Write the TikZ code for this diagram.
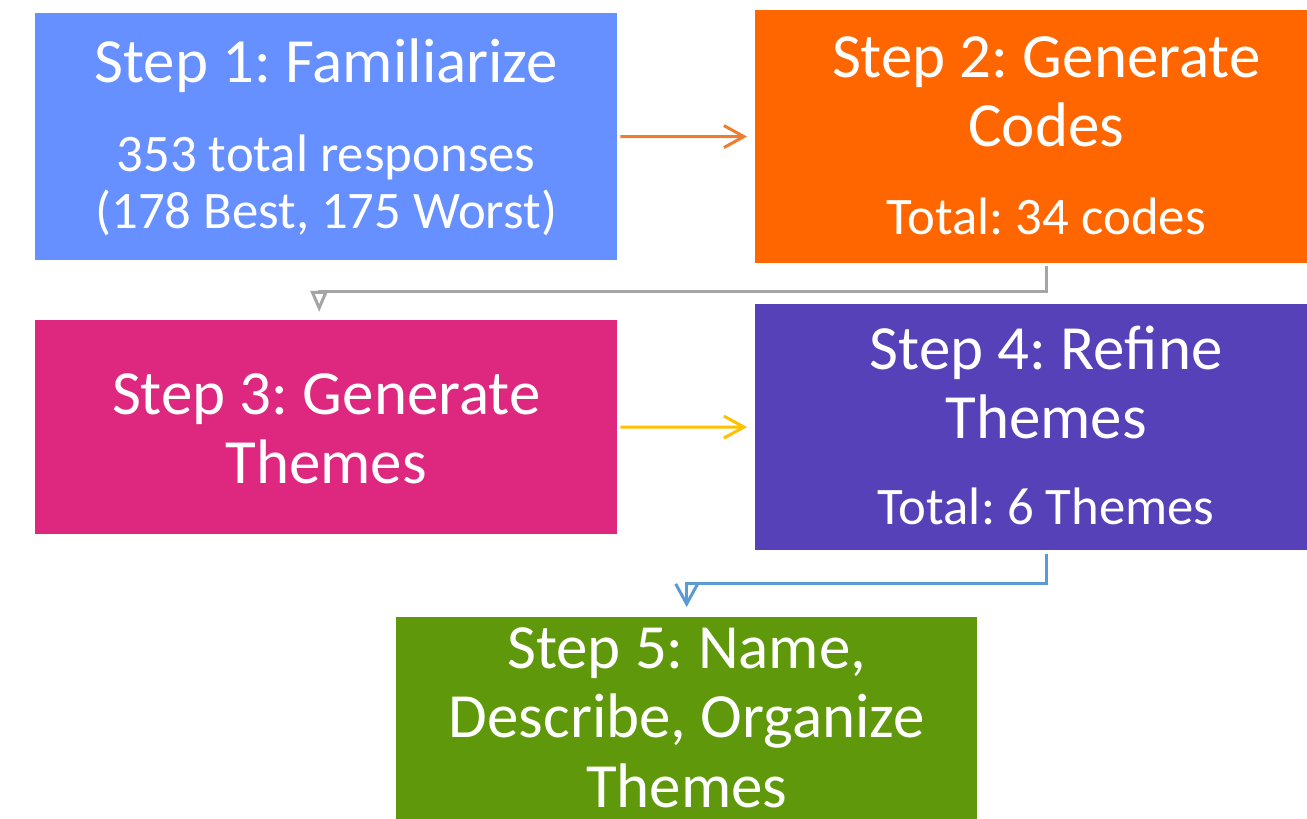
\documentclass[tikz,border=0pt]{standalone}
\usepackage{fontspec}
\setmainfont{Carlito}
\usetikzlibrary{arrows.meta}
\frenchspacing

\definecolor{boxblue}{HTML}{6690FF}
\definecolor{boxorange}{HTML}{FF6600}
\definecolor{boxpink}{HTML}{DE2880}
\definecolor{boxpurple}{HTML}{5641B8}
\definecolor{boxgreen}{HTML}{5F990B}
\definecolor{linkorange}{HTML}{ED7D31}
\definecolor{linkyellow}{HTML}{FFC000}
\definecolor{linkblue}{HTML}{5B9BD5}
\definecolor{linkgray}{HTML}{A5A5A5}

\tikzstyle{stepbox} = [rectangle, anchor=north west, minimum width=5.82cm,
inner sep=0pt, outer sep=0pt]
\tikzstyle{titletext} = [text=white, anchor=base, inner sep=0pt,
font=\fontsize{17.9}{21}\selectfont]
\tikzstyle{subtext} = [text=white, anchor=base, inner sep=0pt,
font=\fontsize{15}{18}\selectfont]
\tikzstyle{flowarrow} = [line width=0.03cm,
-{Straight Barb[length=0.2cm, width=0.22cm]}]
\tikzstyle{grayarrow} = [line width=0.03cm, draw=linkgray,
-{Triangle[open, length=0.21cm, width=0.17cm]}]

\begin{document}
\begin{tikzpicture}[x=0.01cm, y=-0.01cm]
    \useasboundingbox (0,0) rectangle (1307,818);
    \clip (0,0) rectangle (1307,818);
    % Step boxes
    \node (s1) [stepbox, fill=boxblue, minimum height=2.47cm] at (35,13) {};
    \node (s2) [stepbox, fill=boxorange, minimum height=2.53cm] at (755,10) {};
    \node (s3) [stepbox, fill=boxpink, minimum height=2.14cm] at (35,320) {};
    \node (s4) [stepbox, fill=boxpurple, minimum height=2.46cm] at (755,304) {};
    \node (s5) [stepbox, fill=boxgreen, minimum width=5.81cm, minimum height=2.4cm] at (396,617) {};
    % Step 1 text
    \node (s1a) [titletext] at ([yshift=-0.69cm]s1.north) {Step 1: Familiarize};
    \node (s1b) [subtext] at ([yshift=-1.58cm]s1.north) {353 total responses};
    \node (s1c) [subtext] at ([yshift=-2.15cm]s1.north) {(178 Best, 175 Worst)};
    % Step 2 text
    \node (s2a) [titletext] at ([yshift=-0.67cm]s2.north) {Step 2: Generate};
    \node (s2b) [titletext] at ([yshift=-1.36cm]s2.north) {Codes};
    \node (s2c) [subtext] at ([yshift=-2.24cm]s2.north) {Total: 34 codes};
    % Step 3 text
    \node (s3a) [titletext] at ([yshift=-0.94cm]s3.north) {Step 3: Generate};
    \node (s3b) [titletext] at ([yshift=-1.63cm]s3.north) {Themes};
    % Step 4 text
    \node (s4a) [titletext] at ([yshift=-0.65cm]s4.north) {Step 4: Refine};
    \node (s4b) [titletext] at ([yshift=-1.34cm]s4.north) {Themes};
    \node (s4c) [subtext] at ([yshift=-2.2cm]s4.north) {Total: 6 Themes};
    % Step 5 text
    \node (s5a) [titletext] at ([yshift=-0.51cm]s5.north) {Step 5: Name,};
    \node (s5b) [titletext] at ([yshift=-1.2cm]s5.north) {Describe, Organize};
    \node (s5c) [titletext] at ([yshift=-1.9cm]s5.north) {Themes};
    % Connections
    \draw [flowarrow, draw=linkorange, shorten <=0.03cm, shorten >=0.08cm] (s1) -- (s2);
    \draw [grayarrow, shorten <=0.03cm, shorten >=0.08cm] (s2.south) -- ++(0,28)
        -| ([xshift=-0.07cm]s3.north);
    \draw [flowarrow, draw=linkyellow, shorten <=0.03cm, shorten >=0.08cm] (s3) -- (s4);
    \draw [flowarrow, draw=linkblue, shorten <=0.04cm, shorten >=0.1cm] (s4.south) -- ++(0,33)
        -| (s5.north);
\end{tikzpicture}
\end{document}
